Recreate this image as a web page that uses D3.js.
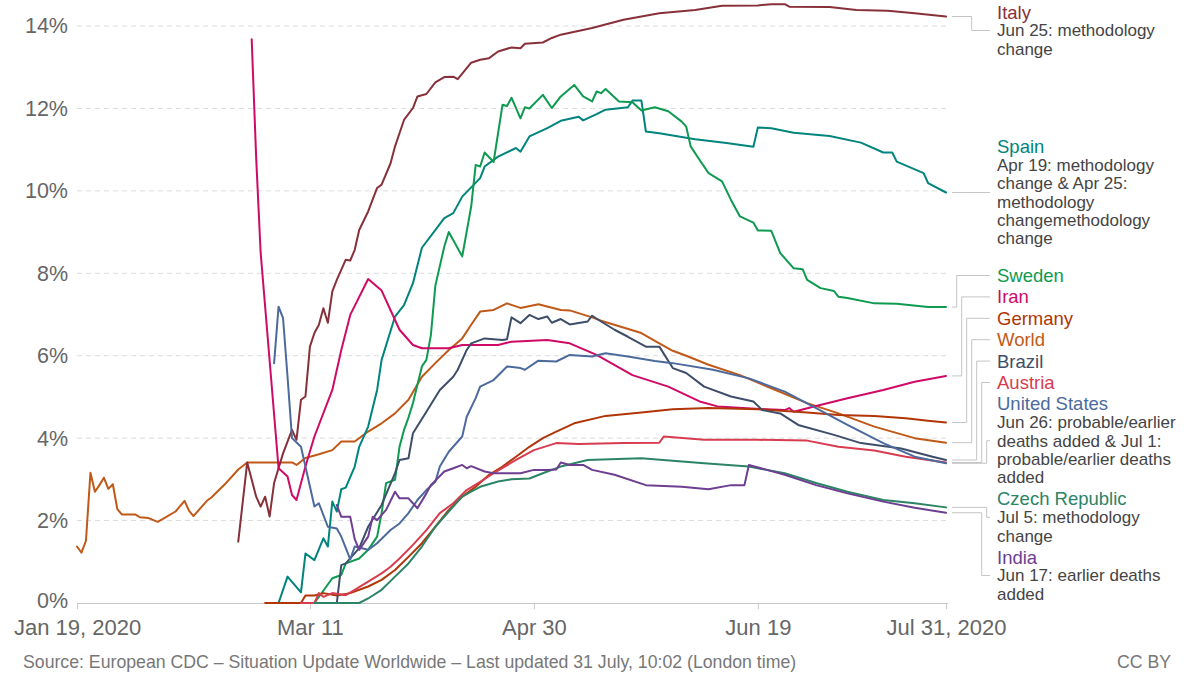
<!DOCTYPE html>
<html><head><meta charset="utf-8">
<script src="https://cdn.jsdelivr.net/npm/d3@7"></script>
<style>body{margin:0;background:#fff;} svg{font-family:"Liberation Sans",Arial,Helvetica,sans-serif;}</style>
</head><body><svg id="chart" width="1184" height="675"></svg>
<script>
// ---- Data: case fatality rate (%), [date, value] ----
const world = [["Jan 19",1.37],["Jan 20",1.22],["Jan 21",1.51],["Jan 22",3.16],["Jan 23",2.70],["Jan 24",2.86],["Jan 25",3.04],["Jan 26",2.77],["Jan 27",2.88],["Jan 28",2.28],["Jan 29",2.15],["Feb 1",2.15],["Feb 2",2.08],["Feb 4",2.06],["Feb 6",1.97],["Feb 7",2.03],["Feb 10",2.22],["Feb 12",2.48],["Feb 13",2.24],["Feb 14",2.11],["Feb 17",2.48],["Feb 18",2.56],["Feb 21",2.88],["Feb 24",3.24],["Feb 26",3.41],["Mar 7",3.41],["Mar 8",3.35],["Mar 10",3.52],["Mar 13",3.61],["Mar 16",3.71],["Mar 18",3.92],["Mar 21",3.92],["Mar 24",4.16],["Mar 27",4.36],["Mar 30",4.60],["Apr 2",4.93],["Apr 5",5.49],["Apr 8",5.82],["Apr 11",6.14],["Apr 14",6.42],["Apr 16",6.75],["Apr 18",7.07],["Apr 21",7.11],["Apr 24",7.27],["Apr 27",7.16],["May 1",7.25],["May 6",7.11],["May 8",7.10],["May 13",6.93],["May 15",6.85],["May 24",6.55],["May 27",6.36],["May 31",6.12],["Jun 3",6.00],["Jun 8",5.78],["Jun 15",5.53],["Jun 22",5.21],["Jun 30",4.85],["Jul 7",4.60],["Jul 15",4.28],["Jul 24",4.00],["Jul 31",3.89]];
const italy = [["Feb 24",1.49],["Feb 26",3.41],["Feb 28",2.58],["Feb 29",2.34],["Mar 1",2.58],["Mar 2",2.10],["Mar 3",2.91],["Mar 5",3.63],["Mar 7",4.20],["Mar 8",3.96],["Mar 9",4.93],["Mar 10",5.01],["Mar 11",6.22],["Mar 12",6.55],["Mar 13",6.75],["Mar 14",7.15],["Mar 15",6.80],["Mar 16",7.56],["Mar 17",7.84],["Mar 19",8.33],["Mar 20",8.31],["Mar 21",8.57],["Mar 22",9.05],["Mar 24",9.50],["Mar 26",10.07],["Mar 27",10.15],["Mar 29",10.67],["Mar 30",11.08],["Apr 1",11.72],["Apr 3",12.01],["Apr 4",12.29],["Apr 6",12.35],["Apr 8",12.63],["Apr 10",12.76],["Apr 12",12.77],["Apr 13",12.71],["Apr 16",13.11],["Apr 18",13.18],["Apr 20",13.22],["Apr 22",13.38],["Apr 25",13.48],["Apr 27",13.46],["Apr 28",13.57],["May 2",13.60],["May 4",13.71],["May 6",13.79],["May 13",13.95],["May 20",14.15],["May 28",14.31],["Jun 5",14.39],["Jun 11",14.49],["Jun 19",14.50],["Jun 22",14.53],["Jun 25",14.53],["Jun 26",14.47],["Jul 5",14.46],["Jul 11",14.39],["Jul 18",14.37],["Jul 24",14.31],["Jul 31",14.23]];
const spain = [["Mar 4",0],["Mar 6",0.64],["Mar 9",0.26],["Mar 10",1.20],["Mar 12",1.04],["Mar 14",1.57],["Mar 15",1.37],["Mar 16",2.46],["Mar 17",2.22],["Mar 18",2.76],["Mar 19",2.80],["Mar 21",3.31],["Mar 22",3.79],["Mar 24",4.28],["Mar 26",5.17],["Mar 27",5.90],["Mar 30",6.95],["Apr 1",7.23],["Apr 3",7.76],["Apr 5",8.62],["Apr 10",9.34],["Apr 12",9.46],["Apr 14",9.86],["Apr 18",10.31],["Apr 19",10.59],["Apr 22",10.83],["Apr 26",11.04],["Apr 27",10.95],["Apr 29",11.32],["May 3",11.52],["May 6",11.70],["May 10",11.80],["May 11",11.71],["May 14",11.86],["May 16",11.97],["May 21",12.03],["May 22",12.19],["May 24",12.19],["May 25",11.44],["May 28",11.40],["Jun 5",11.25],["Jun 12",11.16],["Jun 18",11.07],["Jun 19",11.54],["Jun 22",11.52],["Jun 27",11.41],["Jul 5",11.33],["Jul 12",11.17],["Jul 17",10.93],["Jul 19",10.93],["Jul 20",10.71],["Jul 26",10.43],["Jul 27",10.19],["Jul 31",9.96]];
const sweden = [["Mar 12",0],["Mar 16",0.60],["Mar 18",0.68],["Mar 19",0.96],["Mar 22",1.08],["Mar 24",1.29],["Mar 26",1.61],["Mar 27",2.18],["Mar 28",2.91],["Mar 30",2.99],["Mar 31",3.79],["Apr 1",4.20],["Apr 2",4.50],["Apr 3",4.85],["Apr 5",5.74],["Apr 6",5.90],["Apr 7",6.50],["Apr 8",7.70],["Apr 10",8.65],["Apr 11",9.00],["Apr 14",8.41],["Apr 16",9.62],["Apr 17",10.63],["Apr 18",10.59],["Apr 19",10.93],["Apr 21",10.70],["Apr 23",12.09],["Apr 24",12.06],["Apr 25",12.26],["Apr 27",11.76],["Apr 28",12.03],["Apr 29",12.00],["May 2",12.33],["May 4",12.01],["May 6",12.29],["May 9",12.57],["May 11",12.29],["May 13",12.17],["May 14",12.41],["May 15",12.37],["May 16",12.47],["May 19",12.17],["May 22",12.15],["May 24",11.95],["May 27",12.03],["May 30",11.93],["Jun 2",11.68],["Jun 3",11.56],["Jun 4",11.08],["Jun 6",10.75],["Jun 8",10.43],["Jun 11",10.23],["Jun 13",9.78],["Jun 15",9.38],["Jun 18",9.23],["Jun 19",9.04],["Jun 22",9.03],["Jun 24",8.49],["Jun 27",8.12],["Jun 29",8.10],["Jun 30",7.84],["Jul 3",7.64],["Jul 6",7.57],["Jul 7",7.43],["Jul 9",7.40],["Jul 15",7.27],["Jul 20",7.26],["Jul 27",7.18],["Jul 31",7.18]];
const iran = [["Feb 27",13.68],["Feb 28",10.8],["Feb 29",8.5],["Mar 4",3.27],["Mar 6",3.07],["Mar 7",2.62],["Mar 8",2.50],["Mar 10",3.31],["Mar 12",4.04],["Mar 16",5.17],["Mar 18",6.14],["Mar 20",6.99],["Mar 24",7.86],["Mar 27",7.58],["Mar 31",6.63],["Apr 3",6.26],["Apr 5",6.18],["Apr 11",6.18],["Apr 14",6.26],["Apr 22",6.26],["Apr 25",6.34],["May 3",6.38],["May 8",6.30],["May 14",6.02],["May 22",5.53],["May 30",5.25],["Jun 6",4.89],["Jun 10",4.77],["Jun 21",4.70],["Jun 25",4.68],["Jun 26",4.73],["Jun 27",4.64],["Jul 2",4.78],["Jul 9",4.97],["Jul 17",5.17],["Jul 24",5.37],["Jul 31",5.51]];
const germany = [["Mar 1",0],["Mar 9",0],["Mar 10",0.18],["Mar 12",0.18],["Mar 14",0.24],["Mar 17",0.18],["Mar 20",0.24],["Mar 24",0.40],["Mar 27",0.56],["Mar 30",0.80],["Apr 2",1.12],["Apr 5",1.45],["Apr 8",1.85],["Apr 11",2.26],["Apr 14",2.58],["Apr 17",2.82],["Apr 20",3.11],["Apr 23",3.31],["Apr 26",3.55],["Apr 29",3.79],["May 2",4.00],["May 5",4.16],["May 9",4.36],["May 16",4.54],["May 24",4.62],["May 31",4.70],["Jun 8",4.73],["Jun 19",4.70],["Jun 30",4.62],["Jul 7",4.56],["Jul 15",4.54],["Jul 22",4.48],["Jul 27",4.42],["Jul 31",4.38]];
const brazil = [["Mar 17",0],["Mar 18",0.92],["Mar 19",0.96],["Mar 22",1.33],["Mar 24",1.85],["Mar 27",2.38],["Mar 30",3.15],["Mar 31",3.47],["Apr 2",3.51],["Apr 3",4.12],["Apr 6",4.64],["Apr 9",5.17],["Apr 12",5.49],["Apr 13",5.66],["Apr 15",6.14],["Apr 16",6.30],["Apr 19",6.42],["Apr 23",6.38],["Apr 24",6.40],["Apr 25",6.93],["Apr 27",6.79],["Apr 29",6.99],["May 1",6.89],["May 3",6.95],["May 4",6.80],["May 6",6.89],["May 8",6.76],["May 12",6.83],["May 13",6.97],["May 15",6.83],["May 18",6.63],["May 21",6.46],["May 25",6.22],["May 28",6.22],["May 31",5.70],["Jun 3",5.58],["Jun 7",5.25],["Jun 13",5.01],["Jun 18",4.89],["Jun 20",4.68],["Jun 24",4.60],["Jun 28",4.32],["Jul 6",4.08],["Jul 12",3.88],["Jul 21",3.75],["Jul 28",3.55],["Jul 31",3.47]];
const austria = [["Mar 9",0],["Mar 12",0],["Mar 13",0.24],["Mar 14",0.15],["Mar 16",0.24],["Mar 19",0.19],["Mar 21",0.32],["Mar 24",0.52],["Mar 27",0.72],["Mar 29",0.88],["Mar 31",1.08],["Apr 3",1.41],["Apr 6",1.77],["Apr 9",2.18],["Apr 12",2.42],["Apr 15",2.74],["Apr 18",2.94],["Apr 21",3.15],["Apr 26",3.47],["Apr 30",3.71],["May 5",3.88],["May 10",3.86],["May 20",3.88],["May 28",3.89],["May 29",4.04],["Jun 7",3.96],["Jun 19",3.96],["Jun 30",3.94],["Jul 7",3.79],["Jul 15",3.70],["Jul 22",3.55],["Jul 31",3.41]];
const unitedStates = [["Mar 3",5.82],["Mar 4",7.19],["Mar 5",6.91],["Mar 6",5.49],["Mar 7",4.00],["Mar 9",3.79],["Mar 10",3.31],["Mar 12",2.34],["Mar 13",2.42],["Mar 15",1.85],["Mar 17",1.81],["Mar 18",1.61],["Mar 20",1.06],["Mar 21",1.37],["Mar 24",1.29],["Mar 26",1.45],["Mar 29",1.77],["Mar 31",1.93],["Apr 2",2.18],["Apr 4",2.50],["Apr 6",2.74],["Apr 8",2.94],["Apr 9",3.31],["Apr 11",3.67],["Apr 14",4.04],["Apr 15",4.52],["Apr 17",4.97],["Apr 18",5.25],["Apr 21",5.41],["Apr 24",5.74],["Apr 27",5.70],["Apr 28",5.66],["May 1",5.88],["May 5",5.86],["May 8",6.02],["May 13",5.98],["May 16",6.06],["May 21",5.98],["May 27",5.87],["May 31",5.82],["Jun 9",5.66],["Jun 17",5.45],["Jun 25",5.13],["Jul 2",4.73],["Jul 9",4.32],["Jul 17",3.88],["Jul 24",3.55],["Jul 31",3.39]];
const czechRepublic = [["Mar 12",0],["Mar 22",0],["Mar 24",0.11],["Mar 27",0.32],["Mar 30",0.64],["Apr 2",0.96],["Apr 5",1.37],["Apr 8",1.85],["Apr 11",2.22],["Apr 14",2.58],["Apr 16",2.70],["Apr 18",2.82],["Apr 22",2.95],["Apr 25",3.00],["Apr 29",3.02],["May 3",3.19],["May 6",3.31],["May 12",3.47],["May 17",3.49],["May 24",3.51],["May 31",3.45],["Jun 7",3.39],["Jun 17",3.31],["Jun 25",3.15],["Jul 2",2.91],["Jul 9",2.70],["Jul 17",2.50],["Jul 24",2.42],["Jul 31",2.32]];
const india = [["Mar 17",2.38],["Mar 18",2.09],["Mar 20",2.09],["Mar 21",1.55],["Mar 22",1.29],["Mar 24",1.61],["Mar 25",2.09],["Mar 26",2.01],["Mar 28",2.26],["Mar 30",2.70],["Mar 31",2.54],["Apr 2",2.54],["Apr 4",2.30],["Apr 6",2.66],["Apr 7",2.86],["Apr 10",3.19],["Apr 12",3.27],["Apr 14",3.35],["Apr 15",3.27],["Apr 16",3.32],["Apr 19",3.19],["Apr 21",3.15],["Apr 27",3.15],["Apr 30",3.23],["May 3",3.23],["May 5",3.24],["May 6",3.41],["May 8",3.35],["May 11",3.35],["May 13",3.23],["May 18",3.11],["May 25",2.86],["Jun 2",2.82],["Jun 8",2.76],["Jun 13",2.86],["Jun 16",2.86],["Jun 17",3.35],["Jun 21",3.23],["Jun 25",3.11],["Jul 2",2.86],["Jul 9",2.66],["Jul 17",2.46],["Jul 24",2.31],["Jul 31",2.19]];

const seriesNames = ["World","Italy","Spain","Sweden","Iran","Germany","Brazil","Austria","United States","Czech Republic","India"];
const seriesData = [world, italy, spain, sweden, iran, germany, brazil, austria, unitedStates, czechRepublic, india];
const seriesColors = ["#C05917","#883039","#00847E","#0E9A50","#CF0A66","#B13507","#3E4E69","#D73C50","#4C6A9C","#2C8465","#6D3E91"];
const seriesAnnotations = ["","Jun 25: methodology change","Apr 19: methodology change & Apr 25: methodology changemethodology change","","","","","","Jun 26: probable/earlier deaths added & Jul 1: probable/earlier deaths added","Jul 5: methodology change","Jun 17: earlier deaths added"];
const yTicks = [0,2,4,6,8,10,12,14];
const xTickDates = ["Jan 19","Mar 11","Apr 30","Jun 19","Jul 31"];
const xTickLabels = ["Jan 19, 2020","Mar 11","Apr 30","Jun 19","Jul 31, 2020"];
const sourceText = "Source: European CDC – Situation Update Worldwide – Last updated 31 July, 10:02 (London time)";
const licenseText = "CC BY";

// ---- Chart ----
const parse = s => d3.timeParse("%b %d %Y")(s + " 2020");
const svg = d3.select("#chart");
const x = d3.scaleTime().domain([parse("Jan 19"), parse("Jul 31")]).range([77, 946]);
const y = d3.scaleLinear().domain([0, 14]).range([603, 26]);

// gridlines
svg.append("g").selectAll("line").data(yTicks.filter(t => t > 0)).join("line")
  .attr("x1", 77).attr("x2", 948).attr("y1", d => y(d)).attr("y2", d => y(d))
  .attr("stroke", "#dcdcdc").attr("stroke-width", 1).attr("stroke-dasharray", "5,4");

// y axis labels
const yAxis = svg.append("g").attr("transform", "translate(68,0)")
  .call(d3.axisLeft(y).tickValues(yTicks).tickFormat(d => d + "%").tickSize(0).tickPadding(0));
yAxis.select(".domain").remove();
yAxis.selectAll("text").attr("font-size", 21.5).attr("fill", "#666").attr("font-family", "Liberation Sans, Arial, sans-serif");
yAxis.selectAll(".tick").filter(d => d === 0).select("text").attr("dy", "0.22em");

// x axis
const xAxis = svg.append("g").attr("transform", "translate(0,603)")
  .call(d3.axisBottom(x).tickValues(xTickDates.map(parse)).tickFormat((d, i) => xTickLabels[i]).tickSize(6).tickPadding(10).tickSizeOuter(0));
xAxis.select(".domain").attr("stroke", "#c8c8c8").attr("d", "M77,0.5H948");
xAxis.selectAll(".tick line").attr("stroke", "#c8c8c8");
xAxis.selectAll("text").attr("font-size", 22).attr("fill", "#666").attr("font-family", "Liberation Sans, Arial, sans-serif");

// lines
const line = d3.line().x(d => x(parse(d[0]))).y(d => y(d[1]));
svg.append("g").selectAll("path").data(seriesData).join("path")
  .attr("d", line).attr("fill", "none")
  .attr("stroke", (d, i) => seriesColors[i]).attr("stroke-width", 2)
  .attr("stroke-linejoin", "round").attr("stroke-linecap", "round");

// ---- Labels with layout ----
const NAME_FS = 18.5, ANN_FS = 17, NAME_LH = 18.2, ANN_LH = 18.4, PAD = 3.2, MAXW = 181;
const labelX = 997, connEnd = 990;
const measurer = svg.append("text").attr("font-size", ANN_FS).attr("visibility", "hidden");
function wrap(text) {
  if (!text) return [];
  const words = text.split(" "); const lines = []; let cur = "";
  for (const w of words) {
    const test = cur ? cur + " " + w : w;
    measurer.text(test);
    if (measurer.node().getComputedTextLength() > MAXW && cur) { lines.push(cur); cur = w; }
    else cur = test;
  }
  if (cur) lines.push(cur);
  return lines;
}
const blocks = seriesNames.map((n, i) => {
  const last = seriesData[i][seriesData[i].length - 1];
  const lines = wrap(seriesAnnotations[i]);
  return { i, name: n, lines, h: NAME_LH + lines.length * ANN_LH,
           endX: x(parse(last[0])), endY: y(last[1]), desired: y(last[1]) };
});
measurer.remove();
blocks.sort((a, b) => a.desired - b.desired);
const TOP = 3, BOTTOM = 603;
let clusters = [];
function place(c) {
  let acc = 0, sum = 0;
  c.items.forEach(b => { sum += b.desired - (acc + b.h / 2); acc += b.h + PAD; });
  c.h = acc - PAD;
  c.top = sum / c.items.length;
  c.top = Math.max(TOP, Math.min(BOTTOM - c.h, c.top));
}
blocks.forEach(b => {
  const c = { items: [b] }; place(c); clusters.push(c);
  while (clusters.length > 1) {
    const a = clusters[clusters.length - 2], l = clusters[clusters.length - 1];
    if (a.top + a.h + PAD > l.top) {
      const m = { items: a.items.concat(l.items) }; place(m);
      clusters.splice(clusters.length - 2, 2, m);
    } else break;
  }
});
const lg = svg.append("g");
clusters.forEach(c => {
  let acc = c.top;
  c.items.forEach(b => { b.top = acc; b.cy = acc + b.h / 2; acc += b.h + PAD; });
  const ups = c.items.filter(b => b.cy < b.endY - 0.5);
  const downs = c.items.filter(b => b.cy >= b.endY - 0.5).reverse();
  if (c.items.length === 1) c.items[0].elbow = 971.7;
  else {
    ups.forEach((b, k) => b.elbow = 956.7 + 5 * k);
    downs.forEach((b, k) => b.elbow = 981.7 + 5 * k);
  }
  c.items.forEach(b => {
    const color = seriesColors[b.i];
    const sx = b.endX + 6;
    const pts = Math.abs(b.cy - b.endY) < 1.5
      ? [[sx, b.cy], [connEnd, b.cy]]
      : [[sx, b.endY], [b.elbow, b.endY], [b.elbow, b.cy], [connEnd, b.cy]];
    lg.append("path").attr("d", d3.line()(pts)).attr("fill", "none")
      .attr("stroke", "#c4c4c4").attr("stroke-width", 1);
    lg.append("text").attr("x", labelX).attr("y", b.top + NAME_LH / 2)
      .attr("dy", "0.35em").attr("font-size", NAME_FS).attr("fill", color).text(b.name);
    b.lines.forEach((t, k) => {
      lg.append("text").attr("x", labelX).attr("y", b.top + NAME_LH + ANN_LH * (k + 0.5))
        .attr("dy", "0.35em").attr("font-size", ANN_FS).attr("fill", "#444").text(t);
    });
  });
});

// footer
svg.append("text").attr("x", 23).attr("y", 668).attr("font-size", 17.7).attr("fill", "#777").text(sourceText);
svg.append("text").attr("x", 1171).attr("y", 668).attr("text-anchor", "end").attr("font-size", 17.7).attr("fill", "#777").text(licenseText);
</script>
</body></html>
